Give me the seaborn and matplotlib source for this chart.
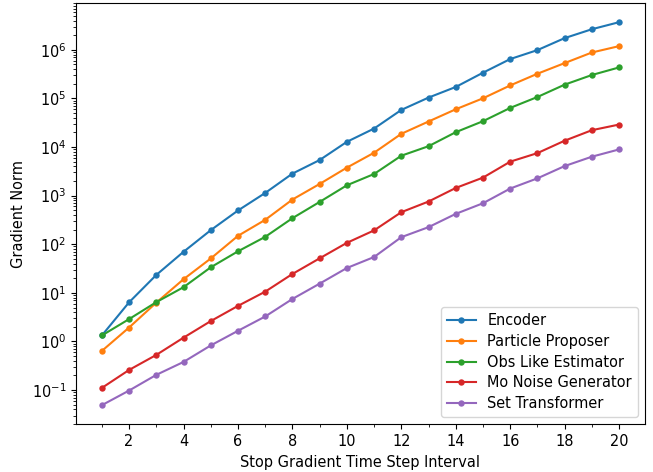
import numpy as np
import pandas as pd
import matplotlib
matplotlib.use("Agg")
import matplotlib.pyplot as plt
import seaborn as sns
from matplotlib.ticker import MultipleLocator, FixedLocator, LogLocator, NullFormatter

steps = list(range(1, 21))
series_names = ["Encoder", "Particle Proposer", "Obs Like Estimator",
                "Mo Noise Generator", "Set Transformer"]

encoder = [1.33, 6.4, 23.4, 70, 195, 495, 1136, 2840, 5400, 12800,
           24000, 58000, 104000, 172000, 338000, 645000, 986000, 1.74e6, 2.65e6, 3.7e6]
particle_proposer = [0.64, 1.94, 6.3, 19.1, 51, 149, 318, 832, 1740, 3770,
                     7640, 18700, 33500, 59800, 100500, 185000, 322000, 533000, 880000, 1.19e6]
obs_like_estimator = [1.33, 2.89, 6.45, 13.1, 33.6, 71.6, 142, 344, 743, 1633,
                      2790, 6630, 10400, 20200, 34000, 63800, 107000, 192000, 303000, 434000]
mo_noise_generator = [0.111, 0.26, 0.53, 1.2, 2.63, 5.4, 10.6, 24.5, 51.4, 107,
                      193, 457, 757, 1440, 2350, 5000, 7500, 13500, 22200, 29000]
set_transformer = [0.049, 0.098, 0.206, 0.38, 0.83, 1.66, 3.27, 7.5, 15.5, 32.5,
                   54.7, 140, 225, 422, 698, 1400, 2270, 4060, 6330, 8930]

y_major_ticks = [1e-1, 1e0, 1e1, 1e2, 1e3, 1e4, 1e5, 1e6]

all_values = [encoder, particle_proposer, obs_like_estimator,
              mo_noise_generator, set_transformer]

df = pd.DataFrame({
    "step": steps * len(series_names),
    "value": [v for vals in all_values for v in vals],
    "series": [n for n in series_names for _ in steps],
})

plt.rcParams["font.family"] = ["DejaVu Sans"]
plt.rcParams["font.size"] = 10.45

fig = plt.figure(figsize=(6.53, 4.72), dpi=100)
ax = fig.add_axes([0.1164, 0.101, 0.8713, 0.8926])

palette = ["#1f77b4", "#ff7f0e", "#2ca02c", "#d62728", "#9467bd"]
sns.lineplot(data=df, x="step", y="value", hue="series", hue_order=series_names,
             palette=palette, marker="o", markersize=4.6, markeredgewidth=0,
             linewidth=1.5, ax=ax)

ax.set_yscale("log")
ax.margins(x=0.05, y=0.05)
ax.autoscale_view()
ax.set_ylim(*ax.get_ylim())
ax.set_xlim(*ax.get_xlim())
ax.yaxis.set_major_locator(FixedLocator(y_major_ticks))
ax.yaxis.set_minor_locator(LogLocator(base=10, subs=np.arange(2, 10), numticks=20))
ax.yaxis.set_minor_formatter(NullFormatter())
ax.xaxis.set_major_locator(MultipleLocator(2))
ax.xaxis.set_minor_locator(MultipleLocator(1))
ax.set_xlabel("Stop Gradient Time Step Interval")
ax.set_ylabel("Gradient Norm")
ax.tick_params(which="major", length=3.5, width=0.8, direction="out", labelsize=10.45)
ax.tick_params(which="minor", length=2, width=0.6, direction="out")
for s in ax.spines.values():
    s.set_linewidth(0.8)
    s.set_color("black")

leg = ax.legend(loc="lower right", title=None, fontsize=10.45, frameon=True,
                labelspacing=0.4, borderaxespad=0.5)
leg.get_frame().set_edgecolor("#cccccc")

fig.savefig("out.png", dpi=100)
